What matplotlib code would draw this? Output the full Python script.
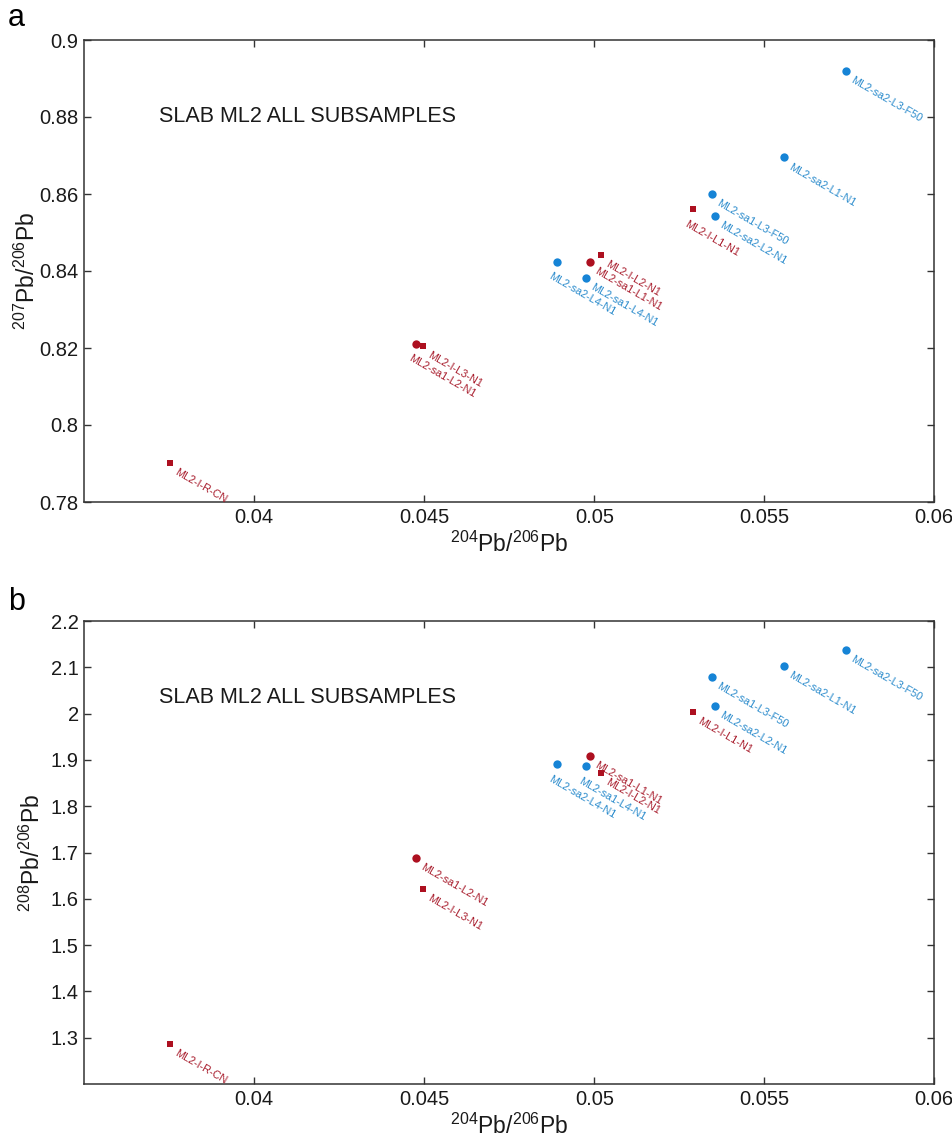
#!/usr/bin/env python3

'''
Pb isotope ratios of the subsamples of slab ML2
a : 207Pb/206Pb against 204Pb/206Pb
b : 208Pb/206Pb against 204Pb/206Pb
'''

import numpy as np
from matplotlib import pyplot as plt

plt.rcParams['font.family'] = ['Liberation Sans', 'DejaVu Sans']
plt.rcParams['mathtext.fontset'] = 'custom'
plt.rcParams['mathtext.rm'] = 'Liberation Sans'

# red group : the "I" squares and the "sa1" red circles
RED_LABELS = ['ML2-I-R-CN', 'ML2-I-L3-N1', 'ML2-sa1-L2-N1', 'ML2-I-L2-N1',
              'ML2-sa1-L1-N1', 'ML2-I-L1-N1']
RED_MARKERS = ['s', 's', 'o', 's', 'o', 's']
RED_PB204 = [0.03752, 0.04496, 0.04476, 0.05020, 0.04988, 0.05289]
RED_PB207 = [0.7901, 0.8206, 0.8211, 0.8442, 0.8423, 0.8561]
RED_PB208 = [1.286, 1.621, 1.689, 1.871, 1.908, 2.003]

# blue group : circles
BLUE_LABELS = ['ML2-sa2-L4-N1', 'ML2-sa1-L4-N1', 'ML2-sa2-L2-N1',
               'ML2-sa1-L3-F50', 'ML2-sa2-L1-N1', 'ML2-sa2-L3-F50']
BLUE_PB204 = [0.04889, 0.04976, 0.05355, 0.05345, 0.05558, 0.05740]
BLUE_PB207 = [0.8424, 0.8383, 0.8544, 0.8599, 0.8695, 0.8920]
BLUE_PB208 = [1.891, 1.886, 2.016, 2.079, 2.102, 2.137]

TITLE = 'SLAB ML2 ALL SUBSAMPLES'
X_TICKS = [0.04, 0.045, 0.05, 0.055, 0.06]
Y_TICKS_A = [0.78, 0.8, 0.82, 0.84, 0.86, 0.88, 0.9]
Y_TICKS_B = [1.3, 1.4, 1.5, 1.6, 1.7, 1.8, 1.9, 2, 2.1, 2.2]

RED = '#ad1020'
RED_TEXT = '#a81c2c'
BLUE = '#1684d6'
BLUE_TEXT = '#2a8bcc'

# where the label goes : 'r' right of the marker, 'b' below it
PLACE_A_RED = ['r', 'r', 'b', 'r', 'r', 'b']
PLACE_A_BLUE = ['b', 'r', 'r', 'r', 'r', 'r']
PLACE_B_RED = ['r', 'r', 'r', 'r', 'r', 'r']
PLACE_B_BLUE = ['b', 'b', 'r', 'r', 'r', 'r']

OFFSETS = {'r': (6, -3), 'b': (-3, -7)}


def label_point(ax, x, y, text, color, place):
    '''
    Write a small slanted label next to a marker
    '''
    ax.annotate(text, (x, y), xytext=OFFSETS[place],
                textcoords='offset points', color=color, fontsize=7.8,
                rotation=-30, rotation_mode='anchor',
                ha='left', va='top')


def plot_panel(ax, yred, yblue, yticks, ylim, ylabel, place_red, place_blue,
               ylabelpad):
    '''
    Draw one of the two panels
    '''
    for x, y, m, lab, p in zip(RED_PB204, yred, RED_MARKERS, RED_LABELS,
                               place_red):
        ax.plot(x, y, m, color=RED, markersize=6 if m == 'o' else 4.5,
                markeredgewidth=0)
        label_point(ax, x, y, lab, RED_TEXT, p)

    for x, y, lab, p in zip(BLUE_PB204, yblue, BLUE_LABELS, place_blue):
        ax.plot(x, y, 'o', color=BLUE, markersize=6, markeredgewidth=0)
        label_point(ax, x, y, lab, BLUE_TEXT, p)

    ax.set_xlim(0.035, 0.06)
    ax.set_ylim(*ylim)
    ax.set_xticks(X_TICKS)
    ax.set_xticklabels([('%g' % t) for t in X_TICKS])
    ax.set_yticks(yticks)
    ax.set_yticklabels([('%g' % t) for t in yticks])
    ax.tick_params(direction='in', length=5, width=1, color='#333333',
                   labelsize=14.5, labelcolor='#1a1a1a',
                   top=True, right=True, pad=4)
    for spine in ax.spines.values():
        spine.set_color('#333333')
        spine.set_linewidth(1.1)

    ax.set_xlabel('$^{204}$Pb/$^{206}$Pb', fontsize=16.5, labelpad=4,
                  color='#1a1a1a')
    ax.set_ylabel(ylabel, fontsize=16.5, labelpad=ylabelpad,
                  color='#1a1a1a')
    ax.text(0.088, 0.835, TITLE, transform=ax.transAxes, fontsize=15.5,
            ha='left', va='center', color='#1a1a1a')


if __name__ == '__main__':
    fig = plt.figure(figsize=(9.52, 11.38), dpi=100)
    W, H = 952, 1138
    ax_a = fig.add_axes([84.3 / W, 1 - 502 / H, 850 / W, 462 / H])
    ax_b = fig.add_axes([84.3 / W, 1 - 1084 / H, 850 / W, 463 / H])

    plot_panel(ax_a, RED_PB207, BLUE_PB207, Y_TICKS_A, (0.78, 0.9),
               '$^{207}$Pb/$^{206}$Pb', PLACE_A_RED, PLACE_A_BLUE, 0)
    plot_panel(ax_b, RED_PB208, BLUE_PB208, Y_TICKS_B, (1.2, 2.2),
               '$^{208}$Pb/$^{206}$Pb', PLACE_B_RED, PLACE_B_BLUE, 4)

    fig.text(8 / W, 1 - 18 / H, 'a', fontsize=22, va='center', ha='left')
    fig.text(8 / W, 1 - 602 / H, 'b', fontsize=22, va='center', ha='left')

    fig.savefig('out.png', dpi=100)
